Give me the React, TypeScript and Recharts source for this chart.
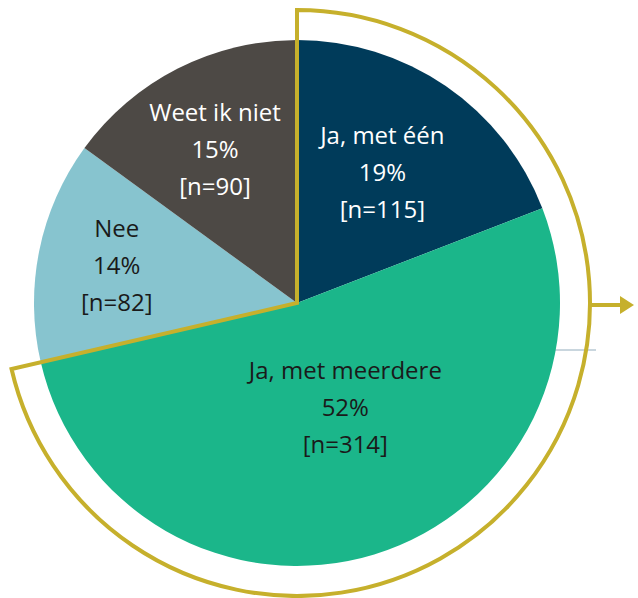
import React from 'react';
import { PieChart, Pie, Cell, Customized } from 'recharts';

const categories = ['Ja, met één', 'Ja, met meerdere', 'Nee', 'Weet ik niet'];
const counts = [115, 314, 82, 90];
const percents = [19, 52, 14, 15];

const colors = ['#003b5a', '#1bb68a', '#87c4cf', '#4d4945'];
const textColors = ['#ffffff', '#1a1a1a', '#1a1a1a', '#ffffff'];
// label distance from centre along the slice bisector, plus a small sideways nudge
const labelRadius = [158, 110, 184, 172];
const labelShiftX = [-4, 16, 0, -4];

const GOLD = '#c6b02c';
const CX = 297;
const CY = 303;
const R = 263;
const R_OUTER = 293;

const data = categories.map((name, i) => ({ name, value: counts[i], pct: percents[i] }));
const total = counts.reduce((a, b) => a + b, 0);
const jaTotal = counts[0] + counts[1];
const ringData = [
    { name: 'ja', value: jaTotal },
    { name: 'rest', value: total - jaTotal }
];

const RAD = Math.PI / 180;

const renderLabel = (props: any) => {
    const { cx, cy, midAngle, index } = props;
    const r = labelRadius[index];
    const x = cx + r * Math.cos(-midAngle * RAD) + labelShiftX[index];
    const y = cy + r * Math.sin(-midAngle * RAD);
    const d = data[index];
    // y is the visual middle of the centre line
    return (
        <text
            x={x}
            y={y + 8}
            fill={textColors[index]}
            textAnchor="middle"
            fontSize={24}
            fontFamily="'Open Sans', sans-serif"
        >
            <tspan x={x} dy={-37}>{d.name}</tspan>
            <tspan x={x} dy={37}>{`${d.pct}%`}</tspan>
            <tspan x={x} dy={37}>{`[n=${d.value}]`}</tspan>
        </text>
    );
};

const Decorations = () => (
    <g>
        <line x1={CX + R - 8} y1={CY + 47} x2={CX + R_OUTER + 6} y2={CY + 47} stroke="#c9d6de" strokeWidth={2} />
        <line x1={CX + R_OUTER} y1={CY + 2} x2={CX + R_OUTER + 34} y2={CY + 2} stroke={GOLD} strokeWidth={4} />
        <polygon
            points={`${CX + R_OUTER + 30},${CY - 7} ${CX + R_OUTER + 44},${CY + 2} ${CX + R_OUTER + 30},${CY + 11}`}
            fill={GOLD}
        />
    </g>
);

export default function App() {
    return (
        <div style={{ position: 'absolute', left: 0, top: 0, width: 638, height: 598, background: '#fff' }}>
            <PieChart width={638} height={598} margin={{ top: 0, right: 0, bottom: 0, left: 0 }}>
                <Customized component={Decorations} />
                <Pie
                    data={data}
                    dataKey="value"
                    cx={CX}
                    cy={CY}
                    outerRadius={R}
                    startAngle={90}
                    endAngle={-270}
                    stroke="none"
                    label={renderLabel}
                    labelLine={false}
                    isAnimationActive={false}
                >
                    {data.map((d, i) => (
                        <Cell key={d.name} fill={colors[i]} stroke="none" />
                    ))}
                </Pie>
                <Pie
                    data={ringData}
                    dataKey="value"
                    cx={CX}
                    cy={CY}
                    outerRadius={R_OUTER}
                    startAngle={90}
                    endAngle={-270}
                    isAnimationActive={false}
                >
                    <Cell fill="none" stroke={GOLD} strokeWidth={4} strokeLinejoin="miter" />
                    <Cell fill="none" stroke="none" />
                </Pie>
            </PieChart>
        </div>
    );
}
